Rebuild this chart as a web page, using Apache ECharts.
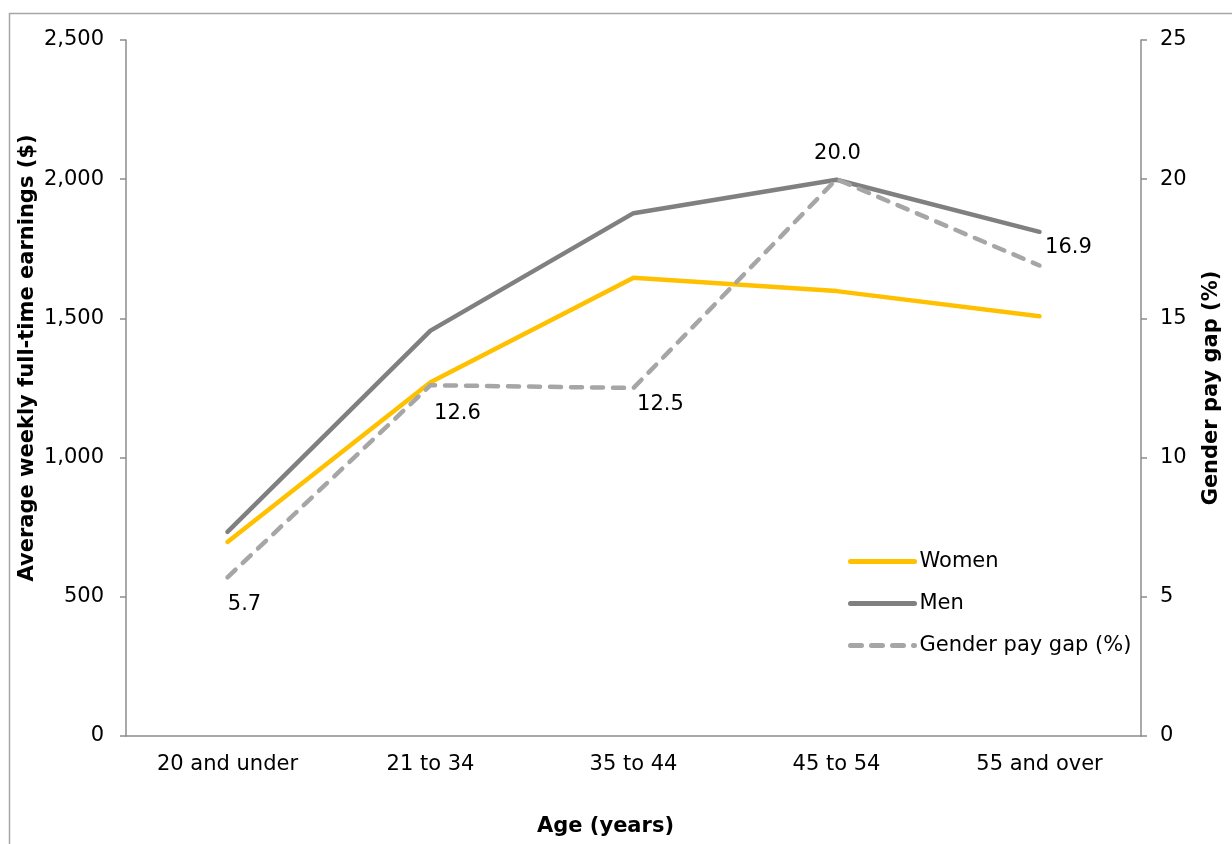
<!DOCTYPE html>
<html>
<head>
<meta charset="utf-8">
<script src="https://cdn.jsdelivr.net/npm/echarts@6/dist/echarts.min.js"></script>
<style>html,body{margin:0;padding:0;background:#fff;}#chart{width:1232px;height:844px;}</style>
</head>
<body>
<div id="chart"></div>
<script>
const categories = ['20 and under', '21 to 34', '35 to 44', '45 to 54', '55 and over'];
const women = [697, 1271, 1646, 1598, 1508];
const men = [733, 1456, 1878, 1998, 1811];
const payGap = [5.7, 12.6, 12.5, 20.0, 16.9];
const leftTicks = { min: 0, max: 2500, interval: 500 };
const rightTicks = { min: 0, max: 25, interval: 5 };
const gapLabelOffsets = [[17, 27], [27, 28], [27, 17], [1, -26], [29, -18]];

const FONT = 'DejaVu Sans, Liberation Sans, Arial, sans-serif';
const FS = 21;
const axisGray = '#8c8c8c';

const chart = echarts.init(document.getElementById('chart'));
chart.setOption({
  backgroundColor: '#fff',
  animation: false,
  textStyle: { fontFamily: FONT },
  graphic: [{
    type: 'rect', left: 7, top: 11, z: -1,
    shape: { width: 1400, height: 1000 },
    style: { fill: 'none', stroke: '#a6a6a6', lineWidth: 1.5 }
  }],
  grid: { left: 126, right: 91, top: 40, bottom: 108, outerBoundsMode: 'none', containLabel: false },
  legend: {
    orient: 'vertical', left: 843, top: 546,
    itemWidth: 64, itemHeight: 14, itemGap: 21,
    itemStyle: { opacity: 0 },
    lineStyle: { width: 5 },
    textStyle: { fontSize: FS, color: '#000', fontFamily: FONT },
    data: ['Women', 'Men', 'Gender pay gap (%)']
  },
  xAxis: {
    type: 'category', data: categories, boundaryGap: true,
    axisLine: { lineStyle: { color: axisGray, width: 1.5 } },
    axisTick: { show: false },
    axisLabel: { fontSize: FS, color: '#000', margin: 18, fontFamily: FONT },
    name: 'Age (years)', nameLocation: 'middle', nameGap: 80, nameMoveOverlap: false,
    nameTextStyle: { fontSize: FS, fontWeight: 'bold', color: '#000', padding: [0, 56, 0, 0], fontFamily: FONT }
  },
  yAxis: [{
    type: 'value', min: leftTicks.min, max: leftTicks.max, interval: leftTicks.interval,
    position: 'left',
    axisLine: { show: true, lineStyle: { color: axisGray, width: 1.5 } },
    axisTick: { show: true, length: 6, lineStyle: { color: axisGray, width: 1.5 } },
    splitLine: { show: false },
    axisLabel: { fontSize: FS, color: '#000', margin: 22, fontFamily: FONT,
      formatter: v => v.toLocaleString('en-US') },
    name: 'Average weekly full-time earnings ($)', nameLocation: 'middle', nameGap: 88, nameMoveOverlap: false,
    nameTextStyle: { fontSize: FS, fontWeight: 'bold', color: '#000', padding: [0, 0, 0, 60], fontFamily: FONT }
  }, {
    type: 'value', min: rightTicks.min, max: rightTicks.max, interval: rightTicks.interval,
    position: 'right',
    axisLine: { show: true, lineStyle: { color: axisGray, width: 1.5 } },
    axisTick: { show: true, length: 6, lineStyle: { color: axisGray, width: 1.5 } },
    splitLine: { show: false },
    axisLabel: { fontSize: FS, color: '#000', margin: 19, fontFamily: FONT },
    name: 'Gender pay gap (%)', nameLocation: 'middle', nameGap: 60, nameMoveOverlap: false,
    nameTextStyle: { fontSize: FS, fontWeight: 'bold', color: '#000', fontFamily: FONT }
  }],
  series: [{
    name: 'Women', type: 'line', data: women, yAxisIndex: 0,
    showSymbol: false, symbol: 'none', color: '#FFC000',
    lineStyle: { color: '#FFC000', width: 4.5, cap: 'round' }
  }, {
    name: 'Men', type: 'line', data: men, yAxisIndex: 0,
    showSymbol: false, symbol: 'none', color: '#808080',
    lineStyle: { color: '#808080', width: 4.5, cap: 'round' }
  }, {
    name: 'Gender pay gap (%)', type: 'line', yAxisIndex: 1,
    symbol: 'circle', symbolSize: 1, showSymbol: true, color: '#a6a6a6',
    itemStyle: { color: 'rgba(0,0,0,0)' },
    lineStyle: { color: '#a6a6a6', width: 4.5, type: [11, 10], cap: 'round' },
    data: payGap.map((v, i) => ({
      value: v,
      label: { show: true, position: 'inside', offset: gapLabelOffsets[i],
        formatter: p => p.value.toFixed(1), fontSize: FS, color: '#000', fontFamily: FONT }
    }))
  }]
});
</script>
</body>
</html>
